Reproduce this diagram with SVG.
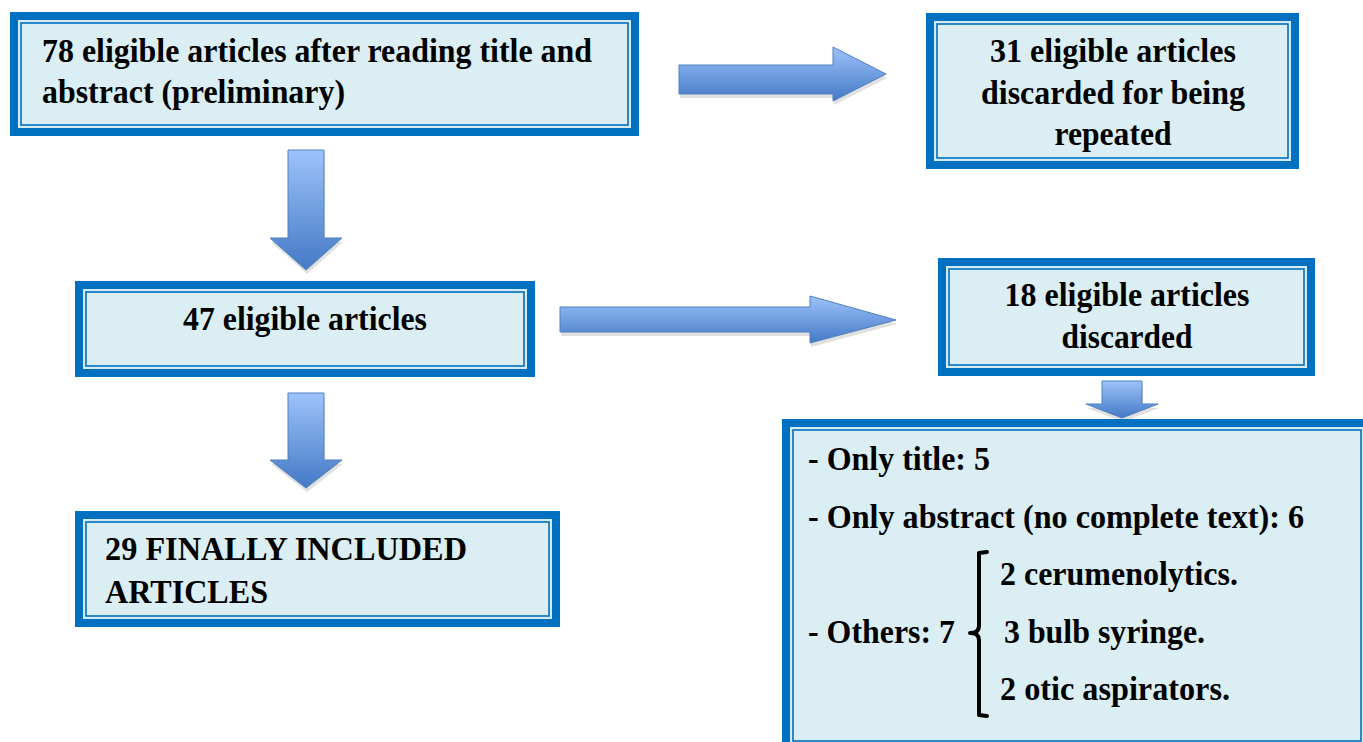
<svg xmlns="http://www.w3.org/2000/svg" width="1363" height="742" viewBox="0 0 1363 742">
<defs>
<linearGradient id="gv" x1="0" y1="0" x2="0" y2="1">
<stop offset="0" stop-color="#9DC3FA"/>
<stop offset="1" stop-color="#4479C6"/>
</linearGradient>
</defs>
<rect width="1363" height="742" fill="#fff"/>

<g id="connectors">
<g fill="#000" fill-opacity="0.12" transform="translate(1 4)">
<path d="M679 65 L833 65 L833 47 L886 74 L833 101 L833 94 L679 94 Z"/>
<path d="M288 150 L324 150 L324 238 L342 238 L306 270 L270 238 L288 238 Z"/>
<path d="M560 307 L810 307 L810 296 L896 320 L810 343 L810 332 L560 332 Z"/>
<path d="M1102 381 L1142 381 L1142 404 L1158 404 L1122 418 L1086 404 L1102 404 Z"/>
<path d="M288 393 L324 393 L324 460 L342 460 L306 488 L270 460 L288 460 Z"/>
</g>
<g fill="url(#gv)" stroke="#4F81BD" stroke-width="1">
<path d="M679 65 L833 65 L833 47 L886 74 L833 101 L833 94 L679 94 Z"/>
<path d="M288 150 L324 150 L324 238 L342 238 L306 270 L270 238 L288 238 Z"/>
<path d="M560 307 L810 307 L810 296 L896 320 L810 343 L810 332 L560 332 Z"/>
<path d="M1102 381 L1142 381 L1142 404 L1158 404 L1122 418 L1086 404 L1102 404 Z"/>
<path d="M288 393 L324 393 L324 460 L342 460 L306 488 L270 460 L288 460 Z"/>
</g>
</g>

<g id="frames" font-family="Liberation Serif, Times New Roman, serif" font-weight="bold" font-size="33" fill="#000">
<g id="n1">
<rect fill="#0070C0" x="10" y="12" width="629" height="124"/>
<rect fill="#D6EAF4" x="18" y="20" width="613" height="108"/>
<rect fill="#DAEEF3" stroke="#0070C0" stroke-width="1.6" x="21" y="23" width="607" height="102"/>
<text x="42" y="62" textLength="550" lengthAdjust="spacingAndGlyphs">78 eligible articles after reading title and</text>
<text x="42" y="103" textLength="303" lengthAdjust="spacingAndGlyphs">abstract (preliminary)</text>
</g>

<g id="n2">
<rect fill="#0070C0" x="926" y="13" width="373" height="156"/>
<rect fill="#D6EAF4" x="934" y="21" width="357" height="140"/>
<rect fill="#DAEEF3" stroke="#0070C0" stroke-width="1.6" x="937" y="24" width="351" height="134"/>
<text text-anchor="middle" x="1113" y="62" textLength="246" lengthAdjust="spacingAndGlyphs">31 eligible articles</text>
<text text-anchor="middle" x="1113" y="104" textLength="264" lengthAdjust="spacingAndGlyphs">discarded for being</text>
<text text-anchor="middle" x="1113" y="145" textLength="117" lengthAdjust="spacingAndGlyphs">repeated</text>
</g>

<g id="n3">
<rect fill="#0070C0" x="75" y="281" width="460" height="96"/>
<rect fill="#D6EAF4" x="83" y="289" width="444" height="80"/>
<rect fill="#DAEEF3" stroke="#0070C0" stroke-width="1.6" x="86" y="292" width="438" height="74"/>
<text text-anchor="middle" x="305" y="330" textLength="244" lengthAdjust="spacingAndGlyphs">47 eligible articles</text>
</g>

<g id="n4">
<rect fill="#0070C0" x="938" y="258" width="377" height="118"/>
<rect fill="#D6EAF4" x="946" y="266" width="361" height="102"/>
<rect fill="#DAEEF3" stroke="#0070C0" stroke-width="1.6" x="949" y="269" width="355" height="96"/>
<text text-anchor="middle" x="1127" y="306" textLength="245" lengthAdjust="spacingAndGlyphs">18 eligible articles</text>
<text text-anchor="middle" x="1127" y="348" textLength="131" lengthAdjust="spacingAndGlyphs">discarded</text>
</g>

<g id="n5">
<rect fill="#0070C0" x="782" y="419" width="590" height="333"/>
<rect fill="#D6EAF4" x="790" y="427" width="574" height="317"/>
<rect fill="#DAEEF3" stroke="#0070C0" stroke-width="1.6" x="793" y="430" width="568" height="311"/>
<text x="808" y="470" textLength="182" lengthAdjust="spacingAndGlyphs">- Only title: 5</text>
<text x="808" y="528" textLength="496" lengthAdjust="spacingAndGlyphs">- Only abstract (no complete text): 6</text>
<text x="1000" y="585" textLength="238" lengthAdjust="spacingAndGlyphs">2 cerumenolytics.</text>
<text x="808" y="643" textLength="147" lengthAdjust="spacingAndGlyphs">- Others: 7</text>
<text x="1004" y="643" textLength="201" lengthAdjust="spacingAndGlyphs">3 bulb syringe.</text>
<text x="1000" y="700" textLength="230" lengthAdjust="spacingAndGlyphs">2 otic aspirators.</text>
<path fill="none" stroke="#000" stroke-width="4" stroke-linecap="round" stroke-linejoin="round" d="M987 552 L979 553 L979 626 Q979 633 970 633 Q979 633 979 640 L979 715 L987 716"/>
</g>

<g id="n6">
<rect fill="#0070C0" x="75" y="511" width="485" height="116"/>
<rect fill="#D6EAF4" x="83" y="519" width="469" height="100"/>
<rect fill="#DAEEF3" stroke="#0070C0" stroke-width="1.6" x="86" y="522" width="463" height="94"/>
<text x="105" y="560" textLength="362" lengthAdjust="spacingAndGlyphs">29 FINALLY INCLUDED</text>
<text x="105" y="603" textLength="163" lengthAdjust="spacingAndGlyphs">ARTICLES</text>
</g>
</g>
</svg>
